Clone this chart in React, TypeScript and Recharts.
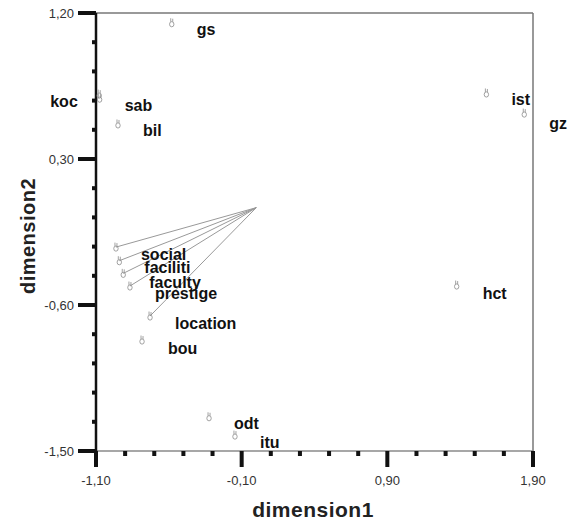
import { ReferenceLine, Scatter, ScatterChart, XAxis, YAxis } from 'recharts'

// object points (dimension1, dimension2)
const names = ['gs', 'koc', 'sab', 'bil', 'ist', 'gz', 'hct', 'odt', 'itu', 'bou', 'location', 'prestige', 'faculty', 'faciliti', 'social']
const dim1 = [-0.58, -1.078, -1.075, -0.949, 1.58, 1.84, 1.376, -0.324, -0.146, -0.784, -0.729, -0.867, -0.913, -0.94, -0.963]
const dim2 = [1.14, 0.70, 0.675, 0.516, 0.707, 0.583, -0.477, -1.289, -1.402, -0.816, -0.668, -0.483, -0.405, -0.327, -0.243]

// attribute vectors drawn from the origin
const vectors = ['social', 'faciliti', 'faculty', 'prestige', 'location']
const origin = { x: 0, y: 0 }

const xTicks = [-1.1, -0.9, -0.7, -0.5, -0.3, -0.1, 0.1, 0.3, 0.5, 0.7, 0.9, 1.1, 1.3, 1.5, 1.7, 1.9]
const xMajor = [-1.1, -0.1, 0.9, 1.9]
const yTicks = [-1.5, -1.32, -1.14, -0.96, -0.78, -0.6, -0.42, -0.24, -0.06, 0.12, 0.3, 0.48, 0.66, 0.84, 1.02, 1.2]
const yMajor = [-1.5, -0.6, 0.3, 1.2]

const data = names.map((name, i) => ({ name, x: dim1[i], y: dim2[i] }))

// label placement relative to the marker
const labelShift: Record<string, [number, number]> = {
  koc: [-49, 7],
  gz: [25, 10],
  faculty: [26, 9],
  hct: [26, 8],
  bou: [26, 8],
}

const font = '"Liberation Sans", Arial, sans-serif'
const fmt = (v: number) => v.toFixed(2).replace('.', ',')

function XTick({ x, y, payload }: any) {
  const major = xMajor.some((m) => Math.abs(m - payload.value) < 1e-6)
  if (!major) return <rect x={x - 2} y={y} width={4} height={5} fill="#111" />
  return (
    <g>
      <rect x={x - 2} y={y} width={4} height={16} fill="#111" />
      <text x={x} y={y + 29} textAnchor="middle" dominantBaseline="central" fontSize={13} fontFamily={font} fill="#333">
        {fmt(payload.value)}
      </text>
    </g>
  )
}

function YTick({ x, y, payload }: any) {
  const major = yMajor.some((m) => Math.abs(m - payload.value) < 1e-6)
  if (!major) return <rect x={x - 4} y={y - 2} width={4} height={4} fill="#111" />
  return (
    <g>
      <rect x={x - 18} y={y - 2} width={18} height={4} fill="#111" />
      <text x={x - 22} y={y} textAnchor="end" dominantBaseline="central" fontSize={13} fontFamily={font} fill="#333">
        {fmt(payload.value)}
      </text>
    </g>
  )
}

function Marker({ cx, cy, payload }: any) {
  const [dx, dy] = labelShift[payload.name] ?? [25, 7]
  return (
    <g>
      <g stroke="#8a8a8a" strokeWidth={0.8} fill="none">
        <ellipse cx={cx} cy={cy + 1.5} rx={2.2} ry={2.6} />
        <line x1={cx - 1} y1={cy - 4.5} x2={cx - 1} y2={cy - 1} />
        <line x1={cx + 1} y1={cy - 4} x2={cx + 1} y2={cy - 1} />
      </g>
      <text
        x={cx + dx}
        y={cy + dy}
        dominantBaseline="central"
        fontSize={16}
        fontWeight="bold"
        fontFamily={font}
        fill="#111"
      >
        {payload.name}
      </text>
    </g>
  )
}

export default function App() {
  return (
    <div style={{ position: 'absolute', left: 0, top: 0, background: '#fff' }}>
      <ScatterChart width={569} height={523} margin={{ top: 13, right: 36, bottom: 42, left: 66 }}>
        <XAxis
          type="number"
          dataKey="x"
          domain={[-1.1, 1.9]}
          ticks={xTicks}
          interval={0}
          height={30}
          tickSize={0}
          tickMargin={0}
          tickLine={false}
          axisLine={{ stroke: '#8a8a8a', strokeWidth: 1.5 }}
          tick={<XTick />}
        />
        <YAxis
          type="number"
          dataKey="y"
          domain={[-1.5, 1.2]}
          ticks={yTicks}
          interval={0}
          width={30}
          tickSize={0}
          tickMargin={0}
          tickLine={false}
          axisLine={{ stroke: '#111', strokeWidth: 2.5 }}
          tick={<YTick />}
        />
        <ReferenceLine y={1.2} stroke="#777" strokeWidth={1.5} />
        <ReferenceLine x={1.9} stroke="#777" strokeWidth={1.5} />
        {vectors.map((v) => {
          const p = data.find((d) => d.name === v)!
          return (
            <ReferenceLine
              key={v}
              segment={[origin, { x: p.x, y: p.y }]}
              stroke="#999"
              strokeWidth={1}
              ifOverflow="visible"
            />
          )
        })}
        <Scatter data={data} shape={<Marker />} isAnimationActive={false} />
        <text x={313} y={509} textAnchor="middle" dominantBaseline="central" fontSize={21} fontWeight="bold" fontFamily={font} letterSpacing={0.5} fill="#222">
          dimension1
        </text>
        <text
          x={28}
          y={236}
          textAnchor="middle"
          dominantBaseline="central"
          fontSize={20}
          fontWeight="bold"
          fontFamily={font}
          letterSpacing={0.5}
          fill="#222"
          transform="rotate(-90 28 236)"
        >
          dimension2
        </text>
      </ScatterChart>
    </div>
  )
}
